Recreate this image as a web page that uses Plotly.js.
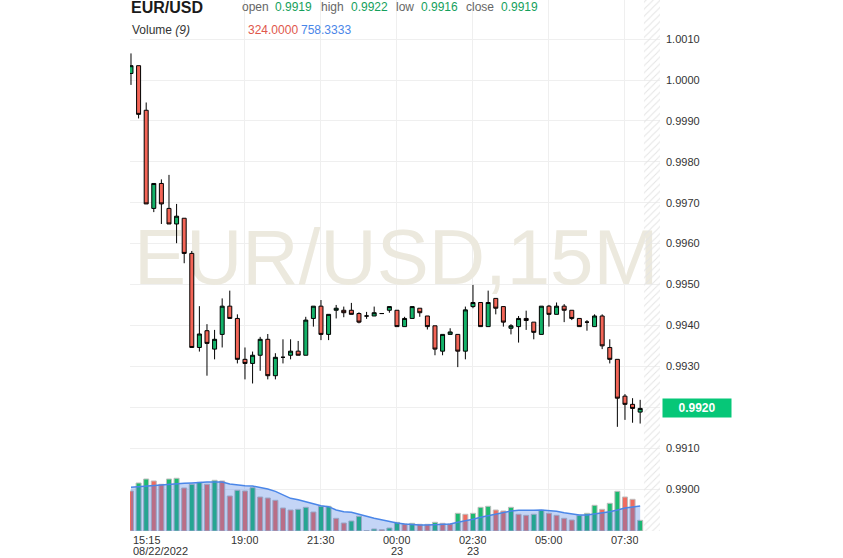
<!DOCTYPE html>
<html>
<head>
<meta charset="utf-8">
<script src="https://cdn.plot.ly/plotly-3.0.1.min.js"></script>
<style>html,body{margin:0;padding:0;background:#fff;}#chart{width:843px;height:558px;}</style>
</head>
<body>
<div id="chart"></div>
<script>
// ---- data (15-minute candles, 08/22/2022 15:15 -> 08/23 08:00) ----
const opens  = [1.00016,1.00035,0.99926,0.99686,0.99747,0.99686,0.99648,0.99662,0.99576,0.99346,
                0.99387,0.99342,0.99378,0.99447,0.99417,0.99317,0.99307,0.99327,0.99366,0.99277,
                0.99322,0.99327,0.99337,0.99327,0.99417,0.99447,0.99378,0.99437,0.99437,0.99437,
                0.99429,0.99423,0.99423,0.99429,0.99437,0.99437,0.99397,0.99417,0.99442,0.99423,
                0.99399,0.99337,0.99378,0.99378,0.99337,0.99446,0.99456,0.99397,0.99466,0.99446,
                0.99393,0.99397,0.99417,0.99408,0.99378,0.99447,0.99427,0.99447,0.99437,0.99417,
                0.99408,0.99397,0.99423,0.99346,0.99317,0.99227,0.99207,0.99188];
const highs  = [1.00065,1.00035,0.99945,0.99747,0.99757,0.99768,0.99697,0.99662,0.99582,0.99447,
                0.99403,0.99389,0.99466,0.99485,0.99427,0.99346,0.99336,0.99372,0.99379,0.99332,
                0.99366,0.99366,0.99362,0.99421,0.99447,0.99462,0.99427,0.99450,0.99446,0.99455,
                0.99432,0.99433,0.99446,0.99430,0.99446,0.99437,0.99421,0.99446,0.99442,0.99423,
                0.99399,0.99378,0.99393,0.99378,0.99446,0.99499,0.99456,0.99485,0.99466,0.99446,
                0.99403,0.99423,0.99436,0.99408,0.99447,0.99450,0.99456,0.99452,0.99437,0.99417,
                0.99413,0.99427,0.99427,0.99366,0.99317,0.99232,0.99222,0.99218];
const lows   = [0.99988,0.99906,0.99697,0.99677,0.99648,0.99648,0.99601,0.99552,0.99346,0.99336,
                0.99277,0.99317,0.99346,0.99417,0.99307,0.99268,0.99258,0.99289,0.99268,0.99268,
                0.99307,0.99317,0.99327,0.99327,0.99397,0.99364,0.99364,0.99417,0.99420,0.99427,
                0.99405,0.99416,0.99423,0.99428,0.99431,0.99397,0.99397,0.99417,0.99421,0.99390,
                0.99327,0.99327,0.99378,0.99298,0.99317,0.99442,0.99397,0.99397,0.99427,0.99397,
                0.99378,0.99358,0.99389,0.99366,0.99378,0.99397,0.99427,0.99408,0.99413,0.99397,
                0.99387,0.99397,0.99342,0.99307,0.99152,0.99169,0.99162,0.99160];
const closes = [1.00035,0.99916,0.99697,0.99747,0.99697,0.99648,0.99667,0.99576,0.99346,0.99379,
                0.99356,0.99366,0.99447,0.99417,0.99317,0.99307,0.99327,0.99366,0.99277,0.99322,
                0.99322,0.99337,0.99327,0.99413,0.99447,0.99378,0.99427,0.99442,0.99431,0.99427,
                0.99408,0.99423,0.99431,0.99429,0.99446,0.99397,0.99417,0.99446,0.99431,0.99397,
                0.99342,0.99378,0.99384,0.99337,0.99438,0.99456,0.99397,0.99456,0.99442,0.99408,
                0.99399,0.99417,0.99412,0.99383,0.99447,0.99427,0.99447,0.99437,0.99417,0.99397,
                0.99408,0.99423,0.99350,0.99317,0.99222,0.99207,0.99197,0.99197];
const volumes = [1216,1459,1580,1520,1419,1580,1602,1307,1419,1480,
                 1419,1541,1520,1064,1237,1216,1316,1033,1003,933,
                 699,638,659,720,577,751,751,386,243,304,
                 447,15,61,40,91,264,213,234,204,204,
                 264,234,213,538,508,538,720,751,638,608,
                 720,508,477,508,629,538,477,386,334,477,
                 538,781,659,842,1206,1033,963,324];
const volumeDir = ['d','u','u','d','d','u','u','d','u','u',
                   'd','u','d','d','u','d','u','d','d','d',
                   'd','d','u','u','d','u','u','d','d','u',
                   'u','u','u','d','u','u','d','u','d','d',
                   'u','d','d','u','d','u','u','u','d','d',
                   'u','d','d','u','u','d','d','d','d','u',
                   'u','u','d','u','u','d','d','u'];
const volumeMA9 = [1327,1347,1368,1378,1398,1418,1438,1449,1459,1479,
                   1489,1489,1489,1428,1398,1378,1368,1327,1276,1205,
                   1104,993,952,902,831,770,740,638,588,567,
                   517,446,385,334,289,243,213,192,182,182,
                   192,203,213,263,304,355,415,466,517,557,
                   608,628,618,628,638,628,598,557,527,486,
                   486,517,557,588,638,699,729,758];
const tickIdx  = [0, 15, 25, 35, 45, 55, 65];
const tickTime = ['15:15','19:00','21:30','00:00','02:30','05:00','07:30'];
const tickDate = ['08/22/2022','','','23','23','',''];
const priceTicks = [0.990,0.991,0.992,0.993,0.994,0.995,0.996,0.997,0.998,0.999,1.000,1.001];
const symbol = 'EUR/USD';
const watermarkText = 'EUR/USD,15M';
const ohlcHeader = {open:'0.9919', high:'0.9922', low:'0.9916', close:'0.9919'};
const volHeader = {last:'324.0000', ma:'758.3333'};

// ---- layout geometry ----
const W = 843, H = 558, ML = 130, MR = 183, MT = 0, MB = 27;
const PW = W - ML - MR, PH = H - MT - MB;
const xRange = [-0.13, 69.61];
const yRange = [0.988973, 1.001956];
const volRange = [0, 16137];
const px = x => (x - ML) / PW;
const py = y => 1 - (y - MT) / PH;

const idx = closes.map((_, i) => i);
const n = closes.length;
const lastLabel = closes[n-1].toFixed(4);
const GREEN = 'rgb(20,178,105)', RED = 'rgb(243,101,87)';
const TXTG = '#15a05c', TXTR = '#e0574b', TXTB = '#4a86e8';
const FONT = '"Liberation Sans", Arial, Helvetica, sans-serif';

const traces = [
  { type:'scatter', mode:'text', x:[34.9], y:[0.9955], text:[watermarkText],
    textposition:'middle center', cliponaxis:false,
    textfont:{family:FONT, size:78, color:'rgb(236,233,222)'},
    xaxis:'x', yaxis:'y', hoverinfo:'skip', showlegend:false },
  { type:'scatter', mode:'lines', fill:'toself',
    x:[n - 0.5, xRange[1], xRange[1], n - 0.5, n - 0.5],
    y:[yRange[0], yRange[0], yRange[1], yRange[1], yRange[0]],
    line:{width:0}, fillcolor:'rgba(0,0,0,0)',
    fillpattern:{shape:'/', fgcolor:'#e4e4e4', bgcolor:'rgba(255,255,255,0)', size:5, solidity:0.2},
    xaxis:'x', yaxis:'y', hoverinfo:'skip', showlegend:false },
  { type:'bar', x:idx, y:volumes, width:0.66,
    marker:{color:volumeDir.map(d => d === 'u' ? 'rgb(28,186,112)' : 'rgb(240,108,96)'),
            line:{color:'#bdbdbd', width:1}},
    xaxis:'x', yaxis:'y2', hoverinfo:'skip', showlegend:false },
  { type:'scatter', mode:'lines', x:idx, y:volumeMA9, fill:'tozeroy',
    fillcolor:'rgba(60,115,225,0.3)', line:{color:'#4a86e8', width:1.5},
    xaxis:'x', yaxis:'y2', hoverinfo:'skip', showlegend:false },
  { type:'candlestick', x:idx, open:opens, high:highs, low:lows, close:closes,
    increasing:{line:{color:'#000', width:1}, fillcolor:GREEN},
    decreasing:{line:{color:'#000', width:1}, fillcolor:RED},
    whiskerwidth:0, xaxis:'x', yaxis:'y3', hoverinfo:'skip', showlegend:false }
];

const ann = [];
const A = (text, x, y, size, color, anchor, extra) => ann.push(Object.assign({
  text, xref:'paper', yref:'paper', x:px(x), y:py(y), xanchor:anchor || 'left', yanchor:'middle',
  showarrow:false, borderpad:0, font:{family:FONT, size, color}}, extra || {}));

A('<b>' + symbol + '</b>', 130, 7, 16, '#1a1a1a');
A('open', 241, 7, 12, '#666');  A(ohlcHeader.open, 273.5, 6.5, 12, TXTG);
A('high', 319.5, 7, 12, '#666'); A(ohlcHeader.high, 349.5, 6.5, 12, TXTG);
A('low', 394.5, 7, 12, '#666');  A(ohlcHeader.low, 419.5, 6.5, 12, TXTG);
A('close', 464.5, 7, 12, '#666'); A(ohlcHeader.close, 499.5, 6.5, 12, TXTG);
A('Volume <i>(9)</i>', 130.5, 30, 12, '#333');
A(volHeader.last, 247, 30, 12, TXTR);
A(volHeader.ma, 300, 30, 12, TXTB);

// x-axis labels (two tight lines, as in the reference)
const xPix = i => ML + (i - xRange[0]) / (xRange[1] - xRange[0]) * PW;
tickIdx.forEach((t, k) => {
  const first = k === 0;
  const xp = first ? xPix(t) + 1.5 : xPix(t);
  A(tickTime[k], xp, 539.2, 11, '#333', first ? 'left' : 'center', {height:9});
  if (tickDate[k]) A(tickDate[k], xp, 550.6, 11, '#333', first ? 'left' : 'center', {height:9});
});

// current price tag (covers the 0.9920 tick label, as in the reference)
ann.push({ text:'<b>' + lastLabel + '</b>', xref:'paper', yref:'y', x:px(662), y:closes[n-1],
  xanchor:'left', yanchor:'middle', showarrow:false, bgcolor:'rgb(6,199,120)', width:68, height:18,
  borderpad:0, align:'center', font:{family:FONT, size:12, color:'#fff'} });

const layout = {
  width:W, height:H, margin:{l:ML, r:MR, t:MT, b:MB, pad:0},
  paper_bgcolor:'#fff', plot_bgcolor:'#fff', showlegend:false, dragmode:false,
  boxgap:0.25,
  xaxis:{range:xRange, tickmode:'array', tickvals:tickIdx, showticklabels:false, ticks:'',
         showgrid:true, gridcolor:'#efefef', gridwidth:1, zeroline:false, showline:false,
         rangeslider:{visible:false}, fixedrange:true},
  yaxis:{range:yRange, side:'right', tickmode:'array', tickvals:priceTicks,
         ticktext:priceTicks.map(v => v.toFixed(4) === lastLabel ? '' : v.toFixed(4)),
         ticks:'', ticklabelstandoff:5,
         tickfont:{family:FONT, size:11, color:'#333'},
         showgrid:true, gridcolor:'#efefef', gridwidth:1, zeroline:false, showline:false, fixedrange:true},
  yaxis2:{range:volRange, overlaying:'y', visible:false, fixedrange:true},
  yaxis3:{range:yRange, overlaying:'y', visible:false, fixedrange:true},
  annotations:ann,
  font:{family:FONT}
};

Plotly.newPlot('chart', traces, layout, {displayModeBar:false, staticPlot:true});
</script>
</body>
</html>
